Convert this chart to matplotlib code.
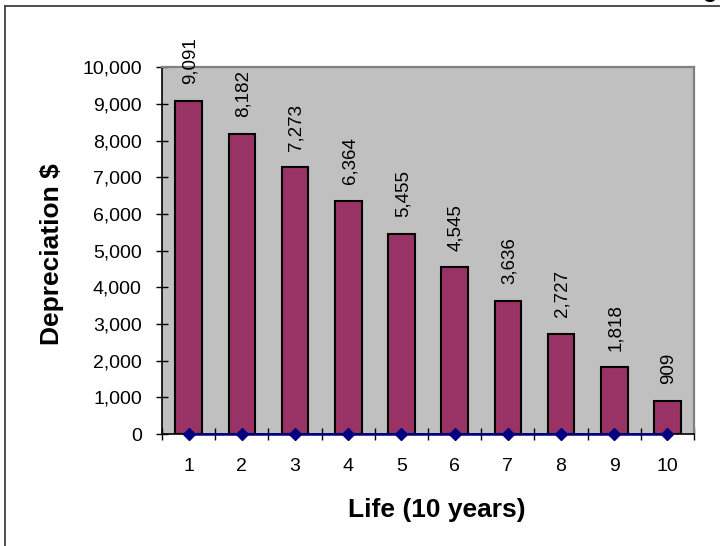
import numpy as np
import matplotlib
matplotlib.use('Agg')
from matplotlib import pyplot as plt
from matplotlib.lines import Line2D
from matplotlib.ticker import FuncFormatter, FixedLocator

plt.rcParams['font.family'] = ['Liberation Sans', 'DejaVu Sans']

# Sum-of-years-digits depreciation over a 10 year life
years = [1, 2, 3, 4, 5, 6, 7, 8, 9, 10]
depreciation = [9091, 8182, 7273, 6364, 5455, 4545, 3636, 2727, 1818, 909]
zero_line = [0, 0, 0, 0, 0, 0, 0, 0, 0, 0]
y_ticks = [0, 1000, 2000, 3000, 4000, 5000, 6000, 7000, 8000, 9000, 10000]

fig = plt.figure(figsize=(7.2, 5.46), dpi=100)
ax = fig.add_axes([0.225, 0.205, 0.739, 0.672])
ax.set_facecolor('#c0c0c0')

x = np.array(years)
ax.bar(x, depreciation, width=0.5, color='#993366', edgecolor='black',
       linewidth=1.5, zorder=2)
ax.plot(x, zero_line, color='#000080', linewidth=1.8, marker='D',
        markersize=6.5, markerfacecolor='#000080', markeredgecolor='#000080',
        zorder=4, clip_on=False)

for xi, v in zip(x, depreciation):
    ax.annotate('{:,}'.format(v), (xi, v), xytext=(1, 12), textcoords='offset points',
                rotation=90, ha='center', va='bottom', fontsize=13.5,
                annotation_clip=False, zorder=5)

ax.set_xlim(0.5, 10.5)
ax.set_ylim(0, 10000)

ax.set_yticks(y_ticks)
ax.yaxis.set_major_formatter(FuncFormatter(lambda v, p: '{:,}'.format(int(v))))
ax.tick_params(axis='y', direction='inout', length=9, width=1, pad=10,
               labelsize=14, colors='black')

ax.set_xticks(x)
ax.set_xticklabels([str(y) for y in years])
ax.xaxis.set_minor_locator(FixedLocator(np.arange(0.5, 11, 1)))
ax.tick_params(axis='x', which='major', length=0, pad=17, labelsize=14)
ax.tick_params(axis='x', which='minor', direction='inout', length=9, width=1)

for side in ['top', 'right']:
    ax.spines[side].set_color('#808080')
    ax.spines[side].set_linewidth(1.6)
for side in ['left', 'bottom']:
    ax.spines[side].set_color('black')
    ax.spines[side].set_linewidth(1.2)

ax.set_ylabel('Depreciation $', fontsize=19, fontweight='bold')
ax.yaxis.set_label_coords(-0.207, 0.49)
ax.yaxis.label.set_va('center')
ax.set_xlabel('Life (10 years)', fontsize=19, fontweight='bold')
ax.xaxis.set_label_coords(0.517, -0.207)
ax.xaxis.label.set_va('center')

# chart frame, cut off at the right and bottom
fig.add_artist(Line2D([5 / 720, 5 / 720], [0, 1 - 6 / 546], transform=fig.transFigure,
                      color='#404040', linewidth=1.3))
fig.add_artist(Line2D([5 / 720, 1], [1 - 6 / 546, 1 - 6 / 546], transform=fig.transFigure,
                      color='#404040', linewidth=1.3))
fig.text(0.987, 1 + 2.5 / 546, 'g', fontsize=17, fontweight='bold', ha='center',
         va='baseline')

fig.savefig('out.png', dpi=100)
